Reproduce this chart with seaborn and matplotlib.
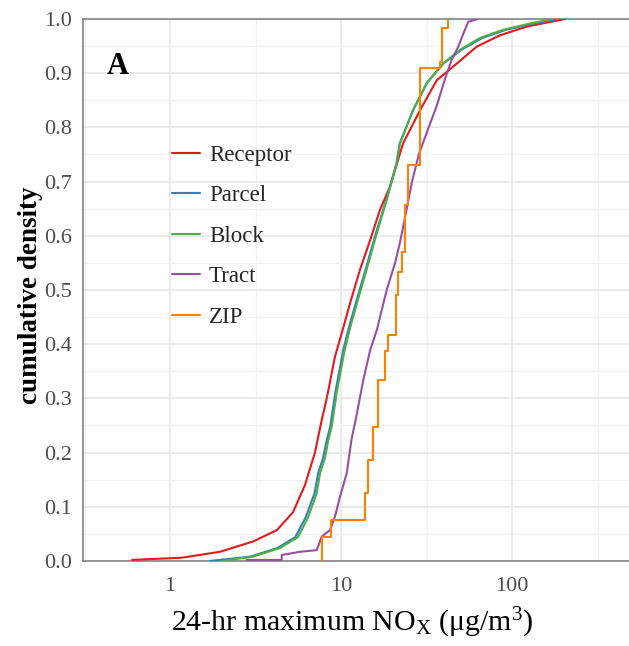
import matplotlib
matplotlib.use("Agg")
import numpy as np
import matplotlib.pyplot as plt
from matplotlib.ticker import FixedLocator, NullFormatter
import seaborn as sns

# cumulative density curves (x = 24-hr max NOx, F = cum. density)
receptor_x = [0.6, 1.17, 1.96, 3.06, 4.22, 5.24, 6.15, 7.04, 7.71, 8.25, 9.22, 10.3, 11.3,
              12.9, 14.8, 16.9, 19.3, 23.1, 29.0, 36.3, 45.2, 62.2, 85.1, 122, 204]
receptor_f = [0.002, 0.006, 0.017, 0.036, 0.057, 0.09, 0.14, 0.20, 0.26, 0.30, 0.377, 0.43, 0.476,
              0.537, 0.592, 0.648, 0.69, 0.771, 0.832, 0.887, 0.912, 0.949, 0.97, 0.986, 1.0]

parcel_x = [1.71, 2.95, 4.25, 5.4, 6.2, 7.0, 7.35, 7.85, 8.25, 8.65, 9.25, 10.3, 11.1, 12.2,
            13.9, 16.0, 18.4, 21.1, 22.0, 26.4, 31.8, 39.8, 50.5, 67, 92, 140, 185]
parcel_f = [0.0, 0.008, 0.024, 0.044, 0.08, 0.125, 0.162, 0.19, 0.223, 0.248, 0.31, 0.389, 0.43, 0.476,
            0.537, 0.605, 0.666, 0.734, 0.77, 0.832, 0.882, 0.918, 0.943, 0.965, 0.98, 0.993, 1.0]

block_x = [2.0, 3.06, 4.40, 5.6, 6.41, 7.21, 7.54, 8.06, 8.43, 8.82, 9.43, 10.5, 11.3, 12.4,
           14.1, 16.2, 18.5, 21.2, 22.1, 26.4, 31.7, 39.5, 49.6, 65.0, 88.5, 133, 174]
block_f = [0.0, 0.008, 0.024, 0.044, 0.08, 0.125, 0.162, 0.19, 0.223, 0.248, 0.31, 0.389, 0.43, 0.476,
           0.537, 0.605, 0.666, 0.734, 0.77, 0.832, 0.882, 0.918, 0.943, 0.965, 0.98, 0.993, 1.0]

tract_x = [2.81, 4.5, 4.5, 5.76, 7.21, 7.71, 8.62, 9.22, 9.87, 10.8, 11.5, 12.4, 13.5, 14.8, 16.2,
           16.9, 18.5, 20.7, 22.1, 23.7, 26.0, 28.5, 31.7, 36.3, 40.6, 44.4, 48.5, 51.9, 55.5, 63.2]
tract_f = [0.002, 0.002, 0.011, 0.017, 0.02, 0.045, 0.057, 0.082, 0.119, 0.162, 0.223, 0.273, 0.334,
           0.389, 0.426, 0.45, 0.5, 0.55, 0.587, 0.635, 0.70, 0.75, 0.79, 0.84, 0.89, 0.925, 0.949,
           0.973, 0.995, 1.0]

zip_x = [7.74, 7.74, 8.68, 13.8, 14.4, 15.4, 16.5, 18.1, 18.9, 21.0, 21.4, 22.6, 23.7, 24.7,
         29.0, 37.9, 38.8, 42.4, 45.2]
zip_f = [0.0, 0.044, 0.075, 0.125, 0.186, 0.247, 0.334, 0.387, 0.417, 0.49, 0.534, 0.571, 0.657,
         0.731, 0.909, 0.921, 0.983, 1.0, 1.0]

series = [
    ("Receptor", receptor_x, receptor_f, "#e41a1c", "default"),
    ("Parcel", parcel_x, parcel_f, "#377eb8", "default"),
    ("Block", block_x, block_f, "#4daf4a", "default"),
    ("Tract", tract_x, tract_f, "#984ea3", "default"),
    ("ZIP", zip_x, zip_f, "#ff7f00", "steps-post"),
]

sns.set_style("white")
plt.rcParams["font.family"] = ["Liberation Serif", "DejaVu Serif"]
plt.rcParams["mathtext.fontset"] = "custom"
plt.rcParams["mathtext.rm"] = "Liberation Serif"
plt.rcParams["mathtext.it"] = "Liberation Serif:italic"

fig = plt.figure(figsize=(6.29, 6.46), dpi=100)
ax = fig.add_axes([0.132, 0.1316, 0.868, 0.839])

for name, xs, fs, col, ds in series:
    sns.lineplot(x=xs, y=fs, ax=ax, color=col, lw=1.5, estimator=None, sort=False,
                 label=name, drawstyle=ds, zorder=3)

ax.set_xscale("log")
ax.set_xlim(0.31, 483)
ax.set_ylim(0, 1.0)

ax.xaxis.set_major_locator(FixedLocator([1, 10, 100]))
ax.xaxis.set_major_formatter(matplotlib.ticker.FixedFormatter(["1", "10", "100"]))
ax.xaxis.set_minor_locator(FixedLocator([10 ** -0.5, 10 ** 0.5, 10 ** 1.5, 10 ** 2.5]))
ax.xaxis.set_minor_formatter(NullFormatter())
ax.yaxis.set_major_locator(FixedLocator(np.arange(0, 1.01, 0.1)))
ax.yaxis.set_major_formatter(matplotlib.ticker.FormatStrFormatter("%.1f"))
ax.yaxis.set_minor_locator(FixedLocator(np.arange(0.05, 1.0, 0.1)))

ax.grid(True, which="major", color="#e6e6e6", lw=1.1, zorder=0)
ax.grid(True, which="minor", color="#f2f2f2", lw=0.9, zorder=0)
ax.set_axisbelow(True)

for side in ["left", "bottom", "top"]:
    ax.spines[side].set_color("#8c8c8c")
    ax.spines[side].set_linewidth(1.3)
ax.spines["right"].set_visible(False)

ax.tick_params(axis="both", which="major", length=5, width=1.2, color="#8c8c8c",
               labelsize=16, labelcolor="#4d4d4d")
ax.tick_params(axis="x", which="major", pad=6.5)
ax.tick_params(axis="y", which="major", pad=3)
ax.tick_params(axis="both", which="minor", length=0)

ax.set_ylabel("cumulative density", fontsize=19.5, fontweight="bold", color="black")
ax.yaxis.set_label_coords(-0.073, 0.49)
ax.set_xlabel("24-hr maximum NO$_{\\mathrm{X}}$ ($\\mathrm{\u03bcg/m^3}$)", fontsize=21.5, color="black")
ax.xaxis.set_label_coords(0.493, -0.082)

ax.text(0.044, 0.94, "A", transform=ax.transAxes, fontsize=22, fontweight="bold",
        va="top", ha="left", color="black")

ax.legend(loc="upper left", bbox_to_anchor=(0.163, 0.768), frameon=False, fontsize=16.5,
          handlelength=1.22, handletextpad=0.39, labelspacing=0.85, borderpad=0, borderaxespad=0)

fig.savefig("out.png", dpi=100)
